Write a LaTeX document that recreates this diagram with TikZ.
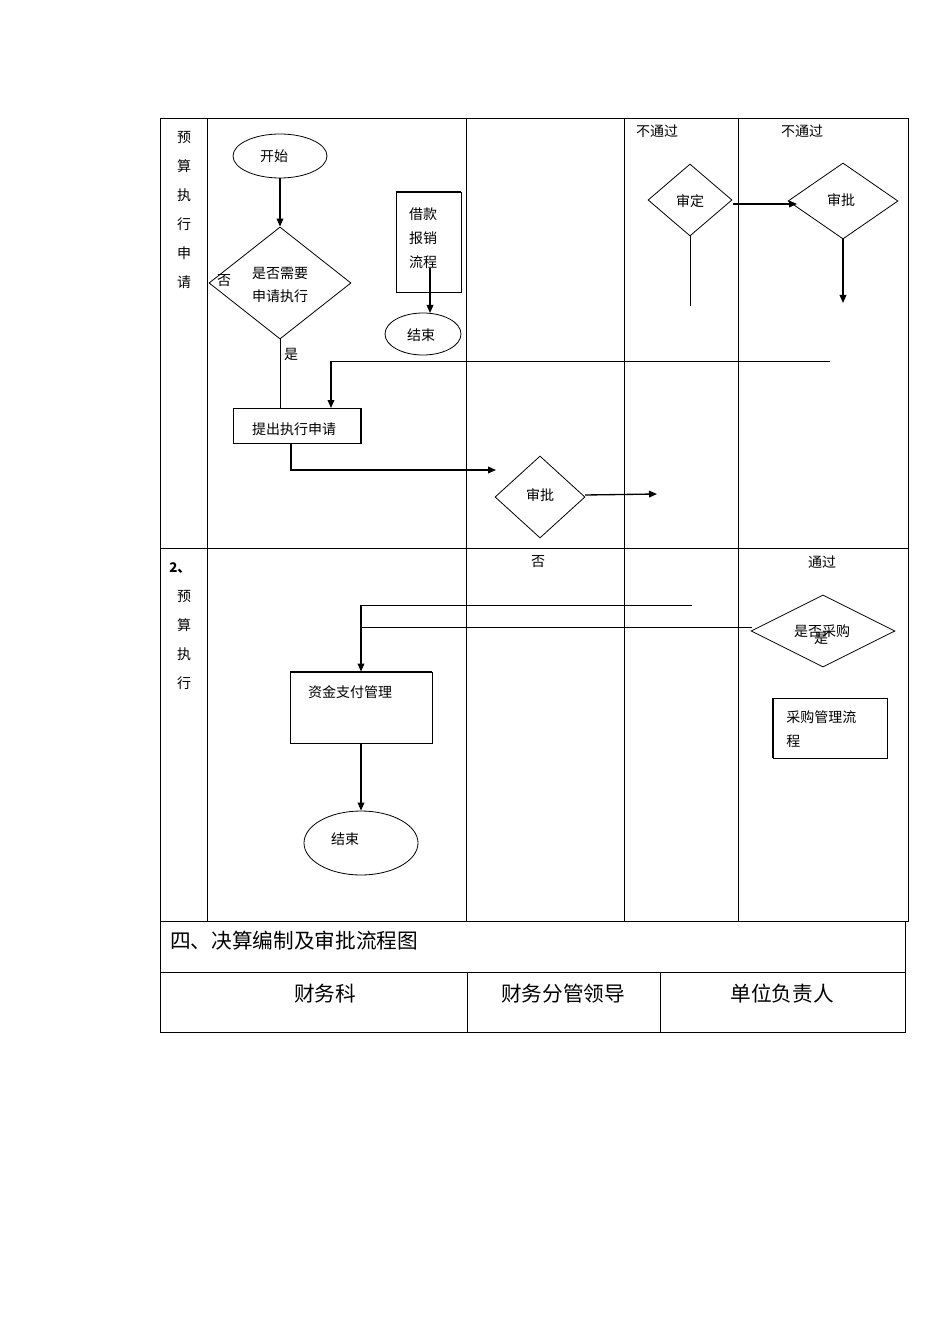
\documentclass[tikz,border=0pt]{standalone}
\usepackage{fontspec}
\setmainfont{Noto Sans CJK SC}
\usetikzlibrary{shapes.geometric,arrows.meta}
\begin{document}
\begin{tikzpicture}[x=0.75pt,y=-0.75pt,
  ln/.style={line width=0.6pt},
  arr/.style={line width=1pt,-{Triangle[length=6pt,width=5pt]}},
  txt/.style={font=\fontsize{10.5pt}{12pt}\selectfont,inner sep=0pt},
  big/.style={font=\fontsize{15.5pt}{18pt}\selectfont,inner sep=0pt},
  dia/.style={diamond,draw,ln,inner sep=0pt},
  ell/.style={ellipse,draw,ln,inner sep=0pt},
  sz/.style 2 args={minimum width={#1*0.75pt},minimum height={#2*0.75pt}}]
\useasboundingbox (0,0) rectangle (950,1344);
% table
\draw[ln] (160,118) rectangle (908,921);
\draw[ln] (160,548) -- (908,548);
\foreach \x in {207,466,624,738} \draw[ln] (\x,118) -- (\x,921);
\draw[ln] (160,921) rectangle (905,1032);
\draw[ln] (160,972) -- (905,972);
\draw[ln] (467,972) -- (467,1032);
\draw[ln] (660,972) -- (660,1032);
% left labels
\foreach \c [count=\i] in {预,算,执,行,申,请} \node[txt] at (184,108+29*\i) {\c};
\node[txt,font=\bfseries\fontsize{10pt}{12pt}\selectfont] at (180,568) {2、};
\foreach \c [count=\i] in {预,算,执,行} \node[txt] at (184,568+28.7*\i) {\c};
% upper
\node[ell,sz={94}{44}] (start) at (280,156) {};
\node[txt] at (274,156) {开始};
\node[dia,sz={142}{112},aspect=1.27] (d1) at (280,283) {};
\node[txt,align=center] at (280,285) {是否需要\\[5pt]申请执行};
\draw[arr] (start.south) -- (d1.north);
\node[txt] at (224,281) {否};
\node[draw,ln,sz={65}{100},inner sep=0pt] (jk) at (428.5,242) {};
\draw[line width=1.6pt] (jk.north west) -- (jk.north east);
\node[txt,align=center] at (423,238) {借款\\[6pt]报销\\[6pt]流程};
\node[ell,sz={76}{42}] (end1) at (423,334) {};
\node[txt] at (421,335) {结束};
\coordinate (jka) at (430,268);
\draw[arr] (jka) -- (430,313);
\node[txt] at (291,354) {是};
\node[draw,ln,sz={128}{35},inner sep=0pt] (req) at (297,425.5) {};
\draw[line width=1.6pt] (req.north east) -- (req.south east);
\node[txt] at (294,429) {提出执行申请};
\draw[ln] (d1.south) -- (req.north -| d1.south);
\coordinate (r1) at (830,361);
\coordinate (r2) at (331,361);
\draw[ln] (r1) -- (r2);
\draw[arr] (r2) -- (331,408);
\node[dia,sz={90}{82},aspect=1.1] (sp1) at (540,497) {};
\node[txt] at (540,495) {审批};
\coordinate (a1) at (291,443);
\coordinate (a1e) at (496,470);
\draw[arr] (a1) |- (a1e);
\coordinate (a2) at (657,494);
\draw[arr] (585,495) -- (a2);
\node[dia,sz={84}{72},aspect=1.17] (sd) at (690,200) {};
\node[txt] at (690,201) {审定};
\coordinate (sdl) at (690,306);
\draw[ln] (sd.south) -- (sdl);
\node[dia,sz={110}{76},aspect=1.45] (sp2) at (843,201) {};
\node[txt] at (841,200) {审批};
\draw[arr] (733,204) -- (797,204);
\coordinate (sp2e) at (843,303);
\draw[arr] (sp2.south) -- (sp2e);
\node[txt] at (657,131) {不通过};
\node[txt] at (802,131) {不通过};
% lower
\node[txt] at (538,562) {否};
\node[txt] at (822,562) {通过};
\node[dia,sz={144}{72},aspect=2] (cg) at (823,631) {};
\node[txt] at (822,631) {是否采购};
\node[txt] at (821,638) {是};
\node[draw,ln,sz={142}{71},inner sep=0pt] (zj) at (361,707.5) {};
\draw[line width=1.6pt] (zj.north west) -- (zj.north east);
\node[txt] at (350,692) {资金支付管理};
\coordinate (l1) at (692,605);
\coordinate (l2) at (361,605);
\draw[ln] (l1) -- (l2);
\draw[arr] (l2) -- (zj.north);
\coordinate (l3) at (361,627);
\coordinate (l4) at (752,627);
\draw[ln] (l4) -- (l3);
\node[ell,sz={114}{64}] (end2) at (361,843) {};
\node[txt] at (345,839) {结束};
\draw[arr] (zj.south) -- (end2.north);
\node[draw,ln,sz={114}{60},inner sep=0pt] (cgl) at (830,728) {};
\draw[line width=1.6pt] (cgl.north west) -- (cgl.south west);
\node[txt,align=left,anchor=west] at (786,729) {采购管理流\\[6pt]程};
% bottom table
\node[big,anchor=west] at (170,941) {四、决算编制及审批流程图};
\node[big] at (325,994) {财务科};
\node[big] at (563,994) {财务分管领导};
\node[big] at (782,994) {单位负责人};
\end{tikzpicture}
\end{document}
